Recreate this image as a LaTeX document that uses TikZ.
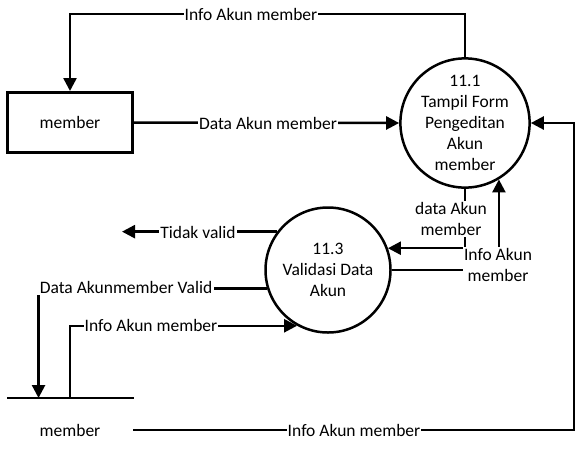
\documentclass[tikz,border=0pt]{standalone}
\usepackage{fontspec}
\setmainfont{Carlito}
\usetikzlibrary{arrows.meta}
\begin{document}
\begin{tikzpicture}[x=1pt,y=-1pt, line width=2.5pt,
  every node/.style={font=\fontsize{17.5}{21}\selectfont},
  proc/.style={draw, circle, minimum size=125pt, inner sep=0pt, align=center},
  ent/.style={draw, line width=3pt, minimum width=125pt, minimum height=60pt},
  lbl/.style={fill=white, inner sep=1pt, align=center},
  plain/.style={inner sep=0pt},
  arr/.style={-{Triangle[length=13pt,width=13pt]}}]
\useasboundingbox (0,0) rectangle (577,456);

% nodes
\node[ent] (mem) at (70,122.5) {member};
\node[proc] (p1) at (465,123) {11.1\\Tampil Form\\Pengeditan\\Akun\\member};
\node[proc] (p3) at (328,270) {11.3\\Validasi Data\\Akun};
\coordinate (st1) at (7,398);
\coordinate (st2) at (134,398);
\node[plain] (stn) at (70,430) {member};
\coordinate (tv) at (122,232);
\coordinate (sv) at (70,398);
\coordinate (b0) at (133,430);
\coordinate (rx) at (574,0);
\coordinate (ty) at (0,14);

% store line
\draw (st1) -- (st2);

% connectors
\draw[arr] (p1.north) |- (mem.north |- ty) -- (mem.north);
\draw[arr] (mem.east) -- (p1.west);
\draw[arr] (b0) -| (rx |- p1.east) -- (p1.east);
\draw[arr] (p1.south) |- (p3.20);
\draw[arr] (p3.east) -| (p1.-59);
\draw[arr] (p3.143) -- (tv |- p3.143);
\node[lbl] (lv) at (126,287) {Data Akunmember Valid};
\draw (p3.197) -- (lv.east |- p3.197);
\draw[arr] ([xshift=1pt]lv.south west) -- ([xshift=1pt]lv.south west |- st1);
\draw[arr] (sv) |- (p3.241);

% labels
\node[lbl] at (251,14) {Info Akun member};
\node[lbl] at (268,123) {Data Akun member};
\node[lbl] at (354,430) {Info Akun member};
\node[lbl] at (451,219) {data Akun\\member};
\node[lbl] at (498,265) {Info Akun\\member};
\node[lbl] at (198,232) {Tidak valid};
\node[lbl] at (151,325) {Info Akun member};
\end{tikzpicture}
\end{document}
